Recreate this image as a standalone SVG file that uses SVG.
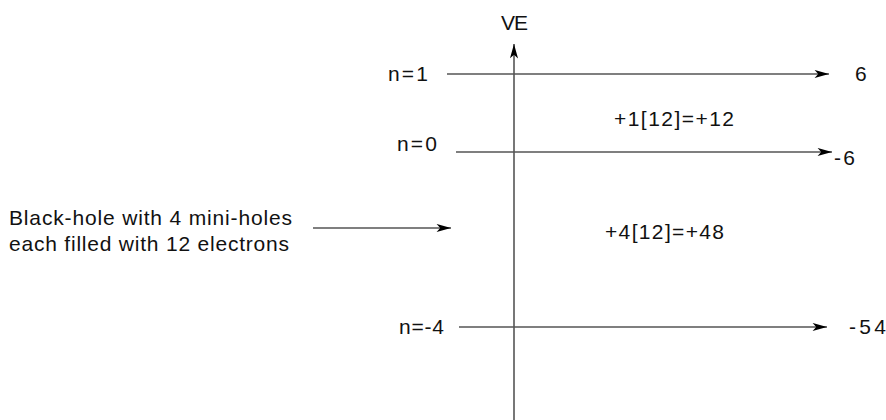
<svg xmlns="http://www.w3.org/2000/svg" width="886" height="420" viewBox="0 0 886 420">
<defs>
<marker id="ah" viewBox="0 0 16 10" refX="16" refY="5" markerWidth="16" markerHeight="9" markerUnits="userSpaceOnUse" orient="auto">
<path d="M0,0.5 L16,5 L0,9.5 L4,5 Z" fill="#000"/>
</marker>
<style>
.t{font-family:"Liberation Sans",Arial,sans-serif;font-size:21px;fill:#111}
.l{stroke:#555;stroke-width:1.6;fill:none}
</style>
</defs>
<rect width="886" height="420" fill="#fff"/>
<g id="connectors">
<line class="l" x1="514" y1="420" x2="514" y2="44" marker-end="url(#ah)"/>
<line class="l" x1="447" y1="74" x2="829" y2="74" marker-end="url(#ah)"/>
<line class="l" x1="456" y1="152" x2="832" y2="152" marker-end="url(#ah)"/>
<line class="l" x1="459" y1="327" x2="827" y2="327" marker-end="url(#ah)"/>
<line class="l" x1="313" y1="228" x2="451" y2="228" marker-end="url(#ah)"/>
</g>
<g id="axis-label"><text class="t" x="501" y="30" textLength="27" lengthAdjust="spacing">VE</text></g>
<g id="n1"><text class="t" x="388" y="81" textLength="40" lengthAdjust="spacing">n=1</text><text class="t" x="855" y="81">6</text></g>
<g id="n0"><text class="t" x="397" y="151" textLength="40" lengthAdjust="spacing">n=0</text><text class="t" x="834" y="165" textLength="21" lengthAdjust="spacing">-6</text></g>
<g id="nm4"><text class="t" x="399" y="334" textLength="45" lengthAdjust="spacing">n=-4</text><text class="t" x="849" y="334" textLength="37" lengthAdjust="spacing">-54</text></g>
<g id="e1"><text class="t" x="614" y="126" textLength="120" lengthAdjust="spacing">+1[12]=+12</text></g>
<g id="e2"><text class="t" x="605" y="239" textLength="119" lengthAdjust="spacing">+4[12]=+48</text></g>
<g id="blackhole"><text class="t" x="9" y="225" textLength="283" lengthAdjust="spacing">Black-hole with 4 mini-holes</text><text class="t" x="9" y="251" textLength="280" lengthAdjust="spacing">each filled with 12 electrons</text></g>
</svg>
